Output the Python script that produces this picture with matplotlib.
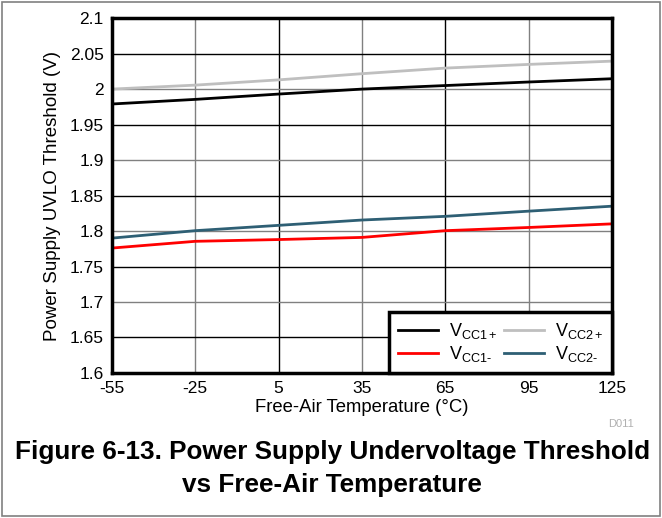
import matplotlib
matplotlib.use("Agg")
import matplotlib.pyplot as plt
import numpy as np

plt.rcParams['font.family'] = ['Liberation Sans', 'DejaVu Sans']
plt.rcParams['mathtext.fontset'] = 'custom'
plt.rcParams['mathtext.rm'] = 'Liberation Sans'
plt.rcParams['mathtext.it'] = 'Liberation Sans'
plt.rcParams['axes.unicode_minus'] = False

# data
temps = [-55, -25, 5, 35, 65, 95, 125]
vcc1_pos = [1.979, 1.9855, 1.993, 2.000, 2.005, 2.010, 2.0146]
vcc2_pos = [2.000, 2.0056, 2.013, 2.0217, 2.0296, 2.0348, 2.0394]
vcc1_neg = [1.776, 1.7855, 1.788, 1.791, 1.8005, 1.805, 1.8101]
vcc2_neg = [1.790, 1.8005, 1.808, 1.8155, 1.8207, 1.828, 1.835]

xticks = [-55, -25, 5, 35, 65, 95, 125]
yticks = np.arange(1.6, 2.1001, 0.05)
ylabels = ['1.6', '1.65', '1.7', '1.75', '1.8', '1.85', '1.9', '1.95', '2', '2.05', '2.1']

fig = plt.figure(figsize=(6.62, 5.18), dpi=100)
ax = fig.add_axes([0.169, 0.28, 0.7555, 0.685])

# grid: alternating gray / black lines
for i, x in enumerate(xticks[1:-1]):
    ax.axvline(x, color='#808080' if i % 2 == 0 else 'black', lw=1.0, zorder=1)
for i, y in enumerate(yticks[1:-1]):
    ax.axhline(y, color='black' if i % 2 == 0 else '#808080', lw=1.0, zorder=1)

ax.plot(temps, vcc1_pos, color='black', lw=2, label=r'V$_{\mathrm{CC1+}}$', zorder=3)
ax.plot(temps, vcc2_pos, color='#bfbfbf', lw=2, label=r'V$_{\mathrm{CC2+}}$', zorder=3)
ax.plot(temps, vcc1_neg, color='#ff0000', lw=2, label=r'V$_{\mathrm{CC1\text{-}}}$', zorder=3)
ax.plot(temps, vcc2_neg, color='#2e5f74', lw=2, label=r'V$_{\mathrm{CC2\text{-}}}$', zorder=3)

ax.set_xlim(-55, 125)
ax.set_ylim(1.6, 2.1)
ax.set_xticks(xticks)
ax.set_yticks(yticks, ylabels)
ax.tick_params(length=0, labelsize=12.5, pad=6)
for s in ax.spines.values():
    s.set_linewidth(2.5)
    s.set_zorder(4)

ax.set_xlabel('Free-Air Temperature (°C)', fontsize=13.3, labelpad=2)
ax.set_ylabel('Power Supply UVLO Threshold (V)', fontsize=13.5, labelpad=6)

handles, labels = ax.get_legend_handles_labels()
order = [0, 2, 1, 3]
leg = ax.legend([handles[i] for i in order], [labels[i] for i in order], ncol=2,
                loc='lower right', fontsize=13, fancybox=False, framealpha=1,
                edgecolor='black', borderaxespad=0, handlelength=2.2,
                columnspacing=0.4, labelspacing=0.15, handletextpad=0.6,
                borderpad=0.5)
leg.get_frame().set_linewidth(2.5)

fig.text(0.918, 0.181, 'D011', color='#b0b0b0', fontsize=8, ha='left', va='center')
fig.text(0.502, 0.127, 'Figure 6-13. Power Supply Undervoltage Threshold',
         fontsize=18.8, fontweight='bold', ha='center', va='center')
fig.text(0.502, 0.063, 'vs Free-Air Temperature',
         fontsize=18.8, fontweight='bold', ha='center', va='center')

fig.patches.append(plt.Rectangle((0.003, 0.003), 0.994, 0.994, transform=fig.transFigure,
                                 fill=False, edgecolor='#808080', lw=1.2))

fig.savefig('out.png', dpi=100)
